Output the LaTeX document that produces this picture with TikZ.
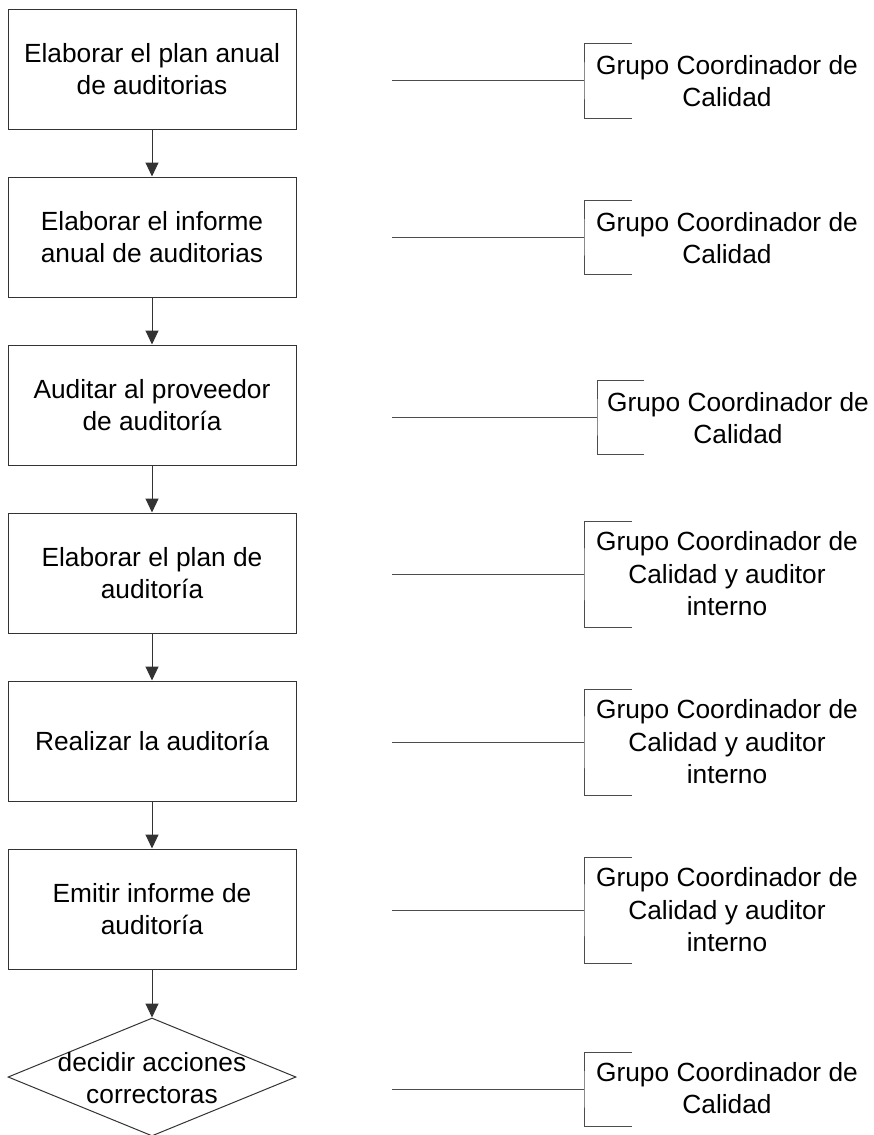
\documentclass[tikz,border=0pt]{standalone}
\usepackage{fontspec}
\setmainfont{Liberation Sans}
\usetikzlibrary{arrows.meta,shapes.geometric}
\newcommand{\txtfont}{\fontsize{26.3}{32.5}\selectfont}
\begin{document}
\begin{tikzpicture}[x=1pt,y=-1pt,
  stepbox/.style={draw=black!80, line width=1pt, minimum width=288pt, minimum height=120pt, align=center, inner sep=0pt, font=\txtfont},
  decision/.style={diamond, draw=black!80, line width=1pt, minimum width=288pt, minimum height=118pt, inner sep=0pt},
  label/.style={align=center, inner sep=0pt, font=\txtfont},
  flow/.style={draw=black!80, line width=1pt, -{Triangle[width=13pt,length=14pt]}},
  tie/.style={draw=black!70, line width=1pt},
]
\useasboundingbox (0,0) rectangle (873,1135);

\node[stepbox] (b1) at (152,69) {Elaborar el plan anual\\de auditorias};
\node[stepbox] (b2) at (152,237) {Elaborar el informe\\anual de auditorias};
\node[stepbox] (b3) at (152,405) {Auditar al proveedor\\de auditoría};
\node[stepbox] (b4) at (152,573) {Elaborar el plan de\\auditoría};
\node[stepbox] (b5) at (152,741) {Realizar la auditoría};
\node[stepbox] (b6) at (152,909) {Emitir informe de\\auditoría};
\node[decision] (d7) at (152,1077) {};
\node[label] (d7t) at (152,1078) {decidir acciones\\correctoras};

\draw[flow] (b1.south) -- (b2.north);
\draw[flow] (b2.south) -- (b3.north);
\draw[flow] (b3.south) -- (b4.north);
\draw[flow] (b4.south) -- (b5.north);
\draw[flow] (b5.south) -- (b6.north);
\draw[flow] (b6.south) -- (d7.north);

% right-hand responsibility labels
\node[label] (r1) at (727,81) {Grupo Coordinador de\\Calidad};
\node[label] (r2) at (727,238) {Grupo Coordinador de\\Calidad};
\node[label] (r3) at (738,418) {Grupo Coordinador de\\Calidad};
\node[label] (r4) at (727,574) {Grupo Coordinador de\\Calidad y auditor\\interno};
\node[label] (r5) at (727,742) {Grupo Coordinador de\\Calidad y auditor\\interno};
\node[label] (r6) at (727,910) {Grupo Coordinador de\\Calidad y auditor\\interno};
\node[label] (r7) at (727,1088) {Grupo Coordinador de\\Calidad};

% brackets: left end, bracket x, line y, half height, tick end
\foreach \i/\bx/\ly/\h/\te in {1/584/80.5/37.5/632, 2/584/237/37/632, 3/597/417/37/644, 4/584/574/53/632, 5/584/742/53/632, 6/584/910/53/632, 7/584/1089/37/632}{
  \coordinate (s\i) at (392,\ly);
  \coordinate (m\i) at (\bx,\ly);
  \coordinate (t\i) at (\te,\ly-\h);
  \coordinate (u\i) at (\te,\ly+\h);
  \draw[tie] (s\i) -- (m\i);
  \draw[tie] (t\i) -| (m\i) |- (u\i);
}
\end{tikzpicture}
\end{document}
